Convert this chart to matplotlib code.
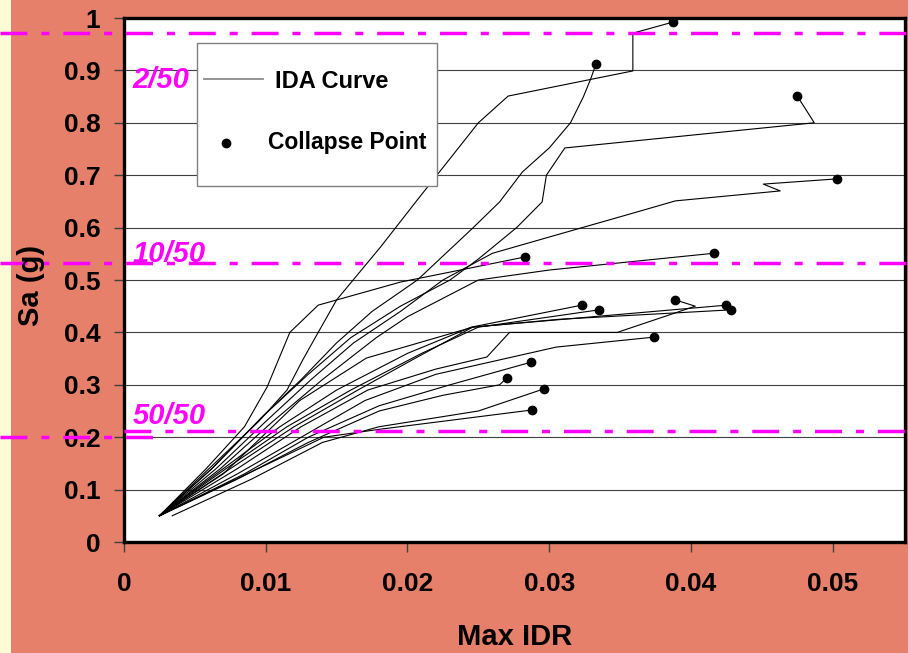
import matplotlib
matplotlib.use("Agg")
import matplotlib.pyplot as plt
from matplotlib.patches import Rectangle
from matplotlib.lines import Line2D

plt.rcParams['font.family'] = ['Liberation Sans', 'DejaVu Sans']
plt.rcParams['font.weight'] = 'bold'
plt.rcParams['lines.scale_dashes'] = False

# IDA curves (Max IDR, Sa); last point of each curve is its collapse point
ida01_x = [0.0025, 0.0060, 0.0095, 0.0115, 0.0126, 0.0137, 0.0150, 0.0181, 0.0207, 0.0250, 0.0271, 0.0359, 0.0359, 0.0387]
ida01_y = [0.05, 0.14, 0.23, 0.29, 0.347, 0.40, 0.462, 0.563, 0.653, 0.80, 0.851, 0.899, 0.971, 0.992]
ida02_x = [0.0025, 0.0062, 0.0098, 0.0125, 0.0150, 0.0175, 0.0207, 0.0246, 0.0265, 0.0281, 0.0300, 0.0315, 0.0324, 0.0329, 0.0333]
ida02_y = [0.05, 0.14, 0.24, 0.31, 0.38, 0.44, 0.50, 0.599, 0.649, 0.706, 0.752, 0.80, 0.849, 0.882, 0.912]
ida03_x = [0.0025, 0.0062, 0.0098, 0.0130, 0.0160, 0.0195, 0.0230, 0.0250, 0.0277, 0.0295, 0.0298, 0.0311, 0.0487, 0.0475]
ida03_y = [0.05, 0.14, 0.24, 0.32, 0.39, 0.45, 0.50, 0.54, 0.60, 0.649, 0.70, 0.752, 0.80, 0.851]
ida04_x = [0.0025, 0.0065, 0.0100, 0.0132, 0.0162, 0.0195, 0.0225, 0.0260, 0.0300, 0.0357, 0.0389, 0.0463, 0.0451, 0.0503]
ida04_y = [0.05, 0.14, 0.23, 0.31, 0.38, 0.44, 0.50, 0.551, 0.582, 0.626, 0.651, 0.670, 0.683, 0.693]
ida05_x = [0.0025, 0.0058, 0.0085, 0.0101, 0.0117, 0.0137, 0.0195, 0.0283]
ida05_y = [0.05, 0.14, 0.22, 0.296, 0.40, 0.452, 0.496, 0.544]
ida06_x = [0.0025, 0.0068, 0.0105, 0.0140, 0.0178, 0.0200, 0.0250, 0.0300, 0.0416]
ida06_y = [0.05, 0.14, 0.23, 0.31, 0.39, 0.43, 0.50, 0.519, 0.551]
ida07_x = [0.0025, 0.0070, 0.0110, 0.0150, 0.0200, 0.0245, 0.0323]
ida07_y = [0.05, 0.14, 0.22, 0.29, 0.36, 0.41, 0.452]
ida08_x = [0.0025, 0.0072, 0.0115, 0.0160, 0.0210, 0.0250, 0.0335]
ida08_y = [0.05, 0.14, 0.22, 0.29, 0.36, 0.41, 0.443]
ida09_x = [0.0025, 0.0075, 0.0120, 0.0165, 0.0205, 0.0246, 0.0425]
ida09_y = [0.05, 0.14, 0.22, 0.29, 0.35, 0.41, 0.452]
ida10_x = [0.0025, 0.0070, 0.0124, 0.0171, 0.0246, 0.0307, 0.0428]
ida10_y = [0.05, 0.13, 0.27, 0.351, 0.41, 0.425, 0.443]
ida11_x = [0.0025, 0.0080, 0.0125, 0.0172, 0.0220, 0.0256, 0.0272, 0.0348, 0.0403, 0.0389]
ida11_y = [0.05, 0.14, 0.22, 0.29, 0.33, 0.353, 0.40, 0.40, 0.45, 0.462]
ida12_x = [0.0025, 0.0080, 0.0125, 0.0170, 0.0220, 0.0305, 0.0374]
ida12_y = [0.05, 0.13, 0.20, 0.27, 0.32, 0.372, 0.391]
ida13_x = [0.0025, 0.0085, 0.0130, 0.0180, 0.0230, 0.0287]
ida13_y = [0.05, 0.13, 0.20, 0.26, 0.30, 0.343]
ida14_x = [0.0025, 0.0080, 0.0130, 0.0180, 0.0225, 0.0265, 0.0270]
ida14_y = [0.05, 0.12, 0.19, 0.25, 0.28, 0.30, 0.313]
ida15_x = [0.0034, 0.0090, 0.0140, 0.0180, 0.0250, 0.0296]
ida15_y = [0.05, 0.12, 0.19, 0.22, 0.25, 0.292]
ida16_x = [0.0025, 0.0141, 0.0180, 0.0288]
ida16_y = [0.05, 0.20, 0.215, 0.252]

curves = [(ida01_x, ida01_y), (ida02_x, ida02_y), (ida03_x, ida03_y), (ida04_x, ida04_y),
          (ida05_x, ida05_y), (ida06_x, ida06_y), (ida07_x, ida07_y), (ida08_x, ida08_y),
          (ida09_x, ida09_y), (ida10_x, ida10_y), (ida11_x, ida11_y), (ida12_x, ida12_y),
          (ida13_x, ida13_y), (ida14_x, ida14_y), (ida15_x, ida15_y), (ida16_x, ida16_y)]

# hazard levels
hazard_labels = ['2/50', '10/50', '50/50']
hazard_sa = [0.971, 0.532, 0.212]

x_ticks = [0, 0.01, 0.02, 0.03, 0.04, 0.05]
x_ticklabels = ['0', '0.01', '0.02', '0.03', '0.04', '0.05']
y_ticks = [0, 0.1, 0.2, 0.3, 0.4, 0.5, 0.6, 0.7, 0.8, 0.9, 1.0]
y_ticklabels = ['0', '0.1', '0.2', '0.3', '0.4', '0.5', '0.6', '0.7', '0.8', '0.9', '1']

W, H = 908, 653
bg = '#E6806A'
magenta = '#FF00FF'
dash = (0, (19.4, 10, 5.8, 10))

fig = plt.figure(figsize=(W / 100, H / 100), dpi=100, facecolor=bg)
ax = fig.add_axes([124 / W, 1 - 542 / H, 781 / W, 524 / H])
ax.set_facecolor('white')

fig.add_artist(Rectangle((0, 0), 11 / W, 1, transform=fig.transFigure,
                         facecolor='#FDFBD6', edgecolor='none', zorder=-1))

for cx, cy in curves:
    ax.plot(cx, cy, color='black', lw=0.8, zorder=3)
    ax.plot(cx[-1], cy[-1], 'o', color='black', ms=6, zorder=4)

ax.set_xlim(0, 0.0551)
ax.set_ylim(0, 1)
ax.set_xticks(x_ticks)
ax.set_xticklabels(x_ticklabels)
ax.set_yticks(y_ticks)
ax.set_yticklabels(y_ticklabels)
ax.tick_params(axis='both', direction='out', labelsize=19, color='#404040', width=1)
ax.tick_params(axis='y', length=7, pad=10)
ax.tick_params(axis='x', length=7.5, pad=14)
ax.yaxis.grid(True, color='#404040', lw=0.8)
ax.set_axisbelow(True)
for s in ax.spines.values():
    s.set_linewidth(2.4)
    s.set_color('black')

# hazard lines running across the whole figure
xl, xr = -124 / 781, (W - 124) / 781
ytr = ax.get_yaxis_transform()
ax.plot([xl, xr], [hazard_sa[0]] * 2, transform=ytr, color=magenta, lw=2.5,
        linestyle=dash, clip_on=False, zorder=6)
ax.plot([xl, xr], [hazard_sa[1]] * 2, transform=ytr, color=magenta, lw=2.5,
        linestyle=dash, clip_on=False, zorder=6)
ax.plot([0, xr], [hazard_sa[2]] * 2, transform=ytr, color=magenta, lw=2.5,
        linestyle=dash, clip_on=False, zorder=6)
ax.plot([xl, 36 / 781], [hazard_sa[2] - 0.011] * 2, transform=ytr, color=magenta, lw=2.5,
        linestyle=dash, clip_on=False, zorder=6)

label_y = [0.866, 0.534, 0.226]
for lab, ly in zip(hazard_labels, label_y):
    ax.text(0.0006, ly, lab, color=magenta, fontsize=21, fontstyle='italic',
            fontweight='bold', va='baseline', ha='left', zorder=7)

fig.text(31 / W, 1 - 285 / H, 'Sa (g)', rotation=90, ha='center', va='center',
         fontsize=21, fontweight='bold')
fig.text(515 / W, 1 - 637 / H, 'Max IDR', ha='center', va='center',
         fontsize=21, fontweight='bold')

# legend box
fig.add_artist(Rectangle((197 / W, 1 - 186 / H), 240 / W, 143 / H, transform=fig.transFigure,
                         facecolor='white', edgecolor='#808080', lw=1, zorder=5))
fig.add_artist(Line2D([204 / W, 263 / W], [1 - 79 / H] * 2, transform=fig.transFigure,
                      color='#8c8c8c', lw=1.3, zorder=6))
fig.add_artist(Line2D([226 / W], [1 - 143 / H], transform=fig.transFigure, marker='o',
                      color='black', ms=6, zorder=6))
fig.text(275 / W, 1 - 82 / H, 'IDA Curve', ha='left', va='center', fontsize=17,
         fontweight='bold', zorder=7)
fig.text(268 / W, 1 - 142 / H, 'Collapse Point', ha='left', va='center', fontsize=16.5,
         fontweight='bold', zorder=7)

fig.savefig('out.png', dpi=100, facecolor=bg)
